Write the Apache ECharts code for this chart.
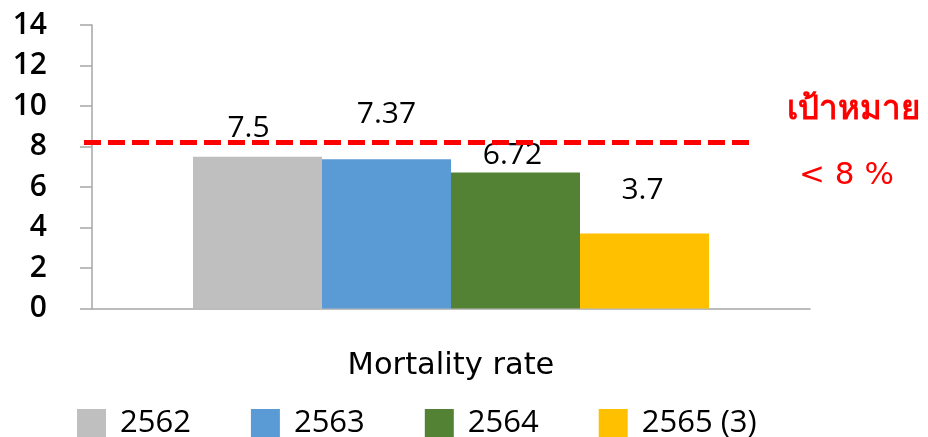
<!DOCTYPE html>
<html>
<head>
<meta charset="utf-8">
<script src="https://cdn.jsdelivr.net/npm/echarts@6/dist/echarts.min.js"></script>
<style>
  html, body { margin: 0; padding: 0; background: #fff; }
  #main { width: 928px; height: 437px; }
</style>
</head>
<body>
<div id="main"></div>
<script>
  // data
  var categories = ['Mortality rate'];
  var years = ['2562', '2563', '2564', '2565 (3)'];
  var values = [7.5, 7.37, 6.72, 3.7];
  var colors = ['#BFBFBF', '#5B9BD5', '#548235', '#FFC000'];
  // label nudges, the labels in the original are not evenly placed
  var labelOffsets = [[-9, -13], [0, -30], [-3, -2], [-2, -28]];
  var yTicks = [0, 2, 4, 6, 8, 10, 12, 14];
  var targetValue = 8.2;
  var targetText = ['เป้าหมาย', '< 8 %'];

  var numFont = 'Open Sans';
  var textFont = 'DejaVu Sans';

  var myChart = echarts.init(document.getElementById('main'));

  var series = years.map(function (name, i) {
    return {
      name: name,
      type: 'bar',
      barWidth: 129,
      barGap: '0%',
      itemStyle: { color: colors[i] },
      label: {
        show: true,
        position: 'top',
        distance: 0,
        offset: labelOffsets[i],
        color: '#000',
        fontFamily: numFont,
        fontWeight: 500,
        fontSize: 30,
        lineHeight: 30
      },
      data: [values[i]]
    };
  });

  myChart.setOption({
    animation: false,
    color: colors,
    grid: { left: 92, right: 118, top: 25, bottom: 128.5, containLabel: false },
    legend: {
      left: 77,
      top: 397,
      padding: 0,
      itemWidth: 29,
      itemHeight: 28,
      itemGap: 60,
      icon: 'rect',
      textStyle: {
        fontFamily: numFont,
        fontWeight: 500,
        fontSize: 31,
        lineHeight: 32,
        color: '#000',
        padding: [0, 0, 20, 9]
      },
      data: years
    },
    xAxis: {
      type: 'category',
      data: categories,
      axisLine: { lineStyle: { color: '#A6A6A6', width: 1.5 } },
      axisTick: { length: 13, lineStyle: { color: '#A6A6A6', width: 1.5 } },
      axisLabel: {
        margin: 43,
        fontFamily: textFont,
        fontSize: 30.5,
        lineHeight: 30,
        color: '#000'
      }
    },
    yAxis: {
      type: 'value',
      min: 0,
      max: 14,
      interval: 2,
      splitLine: { show: false },
      axisLine: { show: true, lineStyle: { color: '#A6A6A6', width: 1.5 } },
      axisTick: { show: true, length: 12, lineStyle: { color: '#A6A6A6', width: 1.5 } },
      axisLabel: {
        margin: 45,
        fontFamily: numFont,
        fontWeight: 600,
        fontSize: 30,
        color: '#000',
        formatter: function (v) { return yTicks.indexOf(v) >= 0 ? String(v) : ''; }
      }
    },
    series: series
  });

  // target line, put on the value axis through the chart's own scale
  var ty = myChart.convertToPixel({ yAxisIndex: 0 }, targetValue);
  myChart.setOption({
    graphic: [
      {
        type: 'line',
        z: 100,
        shape: { x1: 84, y1: ty, x2: 750, y2: ty },
        style: { stroke: '#FF0000', lineWidth: 5, lineDash: [17, 7] }
      },
      {
        type: 'text',
        left: 787,
        top: 94,
        style: {
          text: targetText[0],
          fill: '#FF0000',
          font: '600 33px "DejaVu Sans", "Noto Sans", sans-serif'
        }
      },
      {
        type: 'text',
        left: 799,
        top: 160,
        style: {
          text: targetText[1],
          fill: '#FF0000',
          font: '31px "DejaVu Sans", sans-serif'
        }
      }
    ]
  });
</script>
</body>
</html>
